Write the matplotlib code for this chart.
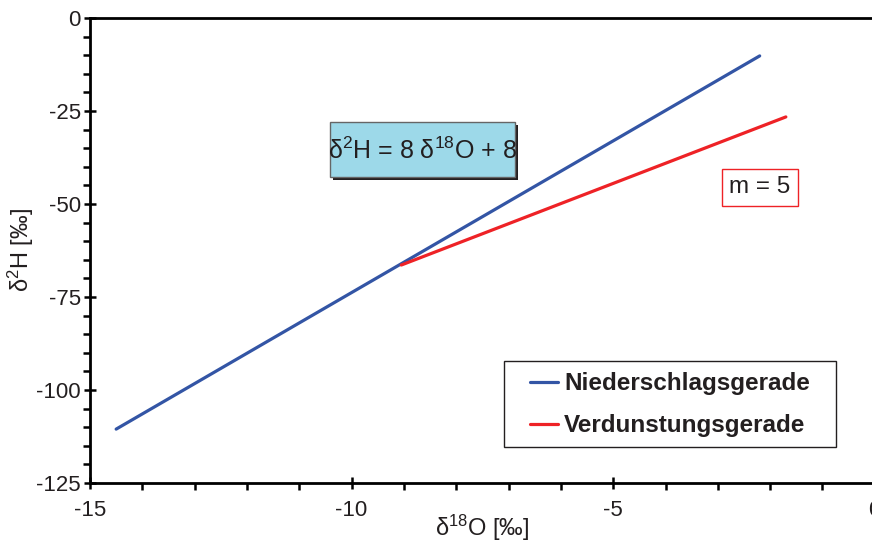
import matplotlib
matplotlib.use("Agg")
import matplotlib.pyplot as plt
from matplotlib.ticker import MultipleLocator
from matplotlib.patches import Rectangle
import matplotlib.transforms as mtransforms

plt.rcParams['font.family'] = ['Liberation Sans', 'DejaVu Sans']
plt.rcParams['mathtext.fontset'] = 'custom'
plt.rcParams['mathtext.rm'] = 'Liberation Sans'
plt.rcParams['mathtext.it'] = 'Liberation Sans'
plt.rcParams['axes.unicode_minus'] = False

# Daten
niederschlag_x = [-14.5, -2.2]
niederschlag_y = [-110.5, -10.2]
verdunstung_x = [-9.05, -1.7]
verdunstung_y = [-66.4, -26.6]

blau = "#3355a5"
rot = "#ee2226"
schwarz = "#231f20"

fig = plt.figure(figsize=(8.72, 5.44), dpi=100)
ax = fig.add_axes([0.1032, 0.112, 0.9, 0.855])

ax.plot(niederschlag_x, niederschlag_y, color=blau, lw=2.3, label="Niederschlagsgerade", solid_capstyle="round")
ax.plot(verdunstung_x, verdunstung_y, color=rot, lw=2.3, label="Verdunstungsgerade", solid_capstyle="round")

ax.set_xlim(-15, 0)
ax.set_ylim(-125, 0)
ax.xaxis.set_major_locator(MultipleLocator(5))
ax.xaxis.set_minor_locator(MultipleLocator(1))
ax.yaxis.set_major_locator(MultipleLocator(25))
ax.yaxis.set_minor_locator(MultipleLocator(5))
ax.tick_params(which="major", direction="inout", length=9, width=1.8, labelsize=16, pad=2, labelcolor=schwarz)
ax.tick_params(which="minor", direction="out", length=5, width=1.8)
ax.tick_params(axis="x", which="major", pad=8)

for s in ["left", "bottom", "top"]:
    ax.spines[s].set_linewidth(2)
ax.spines["right"].set_visible(False)

ax.set_xlabel("δ$^{18}$O [‰]", fontsize=17, labelpad=-6, color=schwarz)
ax.set_ylabel("δ$^{2}$H [‰]", fontsize=17, labelpad=0, color=schwarz)

# Gleichung mit Schatten
schatten = mtransforms.offset_copy(ax.transData, fig=fig, x=3, y=-3, units="dots")
ax.add_patch(Rectangle((-10.41, -42.7), 3.54, 14.74, transform=schatten, fc=schwarz, ec="none", zorder=3))
ax.add_patch(Rectangle((-10.41, -42.7), 3.54, 14.74, fc="#9dd9e9", ec="#666666", lw=1, zorder=4))
ax.text(-8.64, -35.6, "δ$^{2}$H = 8 δ$^{18}$O + 8", fontsize=18, ha="center", va="center",
        color=schwarz, zorder=5)

ax.text(-2.2, -45.5, "m = 5", fontsize=17.5, ha="center", va="center", color=schwarz,
        bbox=dict(boxstyle="square,pad=0.3", fc="white", ec=rot, lw=1))

# Legende ohne eigenen Rahmen, Rahmen separat
ax.add_patch(Rectangle((0.5275, 0.0774), 0.4231, 0.185, transform=ax.transAxes,
                       fc="white", ec=schwarz, lw=1, zorder=4))
leg = ax.legend(loc="center left", bbox_to_anchor=(0.5607, 0.1688), frameon=False,
                prop={"weight": "bold", "size": 17.5}, handlelength=1.15, handletextpad=0.25,
                borderpad=0, labelspacing=0.78, borderaxespad=0)
leg.set_zorder(5)
for t in leg.get_texts():
    t.set_color(schwarz)

fig.savefig("out.png", dpi=100)
